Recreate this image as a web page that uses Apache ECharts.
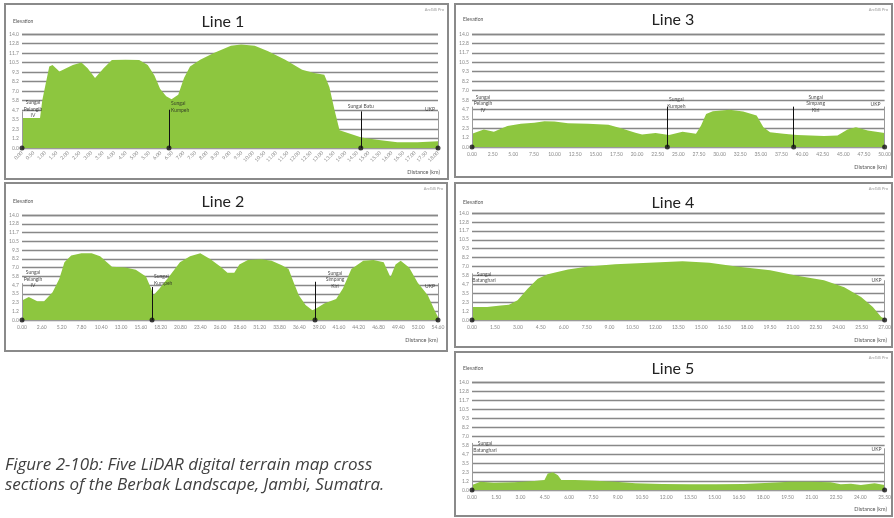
<!DOCTYPE html>
<html><head><meta charset="utf-8">
<script src="https://cdn.jsdelivr.net/npm/echarts@6/dist/echarts.min.js"></script>
<style>html,body{margin:0;padding:0;background:#fff}#c{width:894px;height:518px}</style>
</head><body><div id="c"></div>
<script>
// ---------- data (distance km / elevation m) ----------
const LINE1_DIST = [0,0.78,0.88,1.18,1.32,1.62,1.91,2.20,2.57,2.84,3.16,3.53,3.89,4.48,5.07,5.44,5.73,5.98,6.24,6.47,6.76,7.01,7.27,7.71,8.30,9.04,9.48,10.07,10.65,11.39,12.12,12.64,13.08,13.30,13.52,13.74,14.33,14.69,15.36,16.24,17.12,18.0];
const LINE1_ELEV = [3.68,3.68,5.9,10.0,10.2,9.4,9.8,10.2,10.5,9.8,8.6,9.8,10.8,10.85,10.8,10.2,8.9,7.25,6.35,6.0,6.55,8.6,10.0,10.85,11.67,12.57,12.7,12.57,11.87,10.85,9.6,9.2,9.0,7.5,4.7,2.17,1.64,1.3,1.0,0.7,0.7,0.82];
const LINE2_DIST = [0,0.89,2.01,2.90,4.01,4.90,5.57,6.46,7.80,9.14,10.25,11.14,11.81,13.59,14.93,16.27,16.94,17.25,18.05,19.39,20.73,22.06,23.40,24.74,26.07,26.97,27.86,28.53,29.64,31.42,32.76,34.10,34.99,35.66,36.33,37.22,38.11,38.55,39.67,41.23,42.12,43.23,44.79,46.13,47.47,48.36,49.03,49.70,50.81,51.92,53.26,54.15,54.6];
const LINE2_ELEV = [2.6,3.06,2.5,2.5,3.7,5.5,7.7,8.6,8.9,8.9,8.5,7.7,7.1,7.0,6.7,5.8,4.2,3.3,4.2,5.9,7.7,8.5,8.9,8.1,7.1,6.3,6.3,7.4,8.0,8.1,7.9,7.3,6.8,5.0,3.3,2.0,1.3,1.5,2.2,2.8,4.2,6.8,7.9,8.0,7.7,5.7,7.4,7.9,7.0,5.0,3.3,1.3,0.4];
const LINE3_DIST = [0,1.43,2.65,4.29,5.92,7.55,8.78,10.0,11.63,14.08,16.53,18.16,19.80,20.61,22.24,23.88,25.51,27.14,27.76,28.37,29.18,31.22,32.86,34.49,35.31,36.12,37.76,39.39,41.02,42.65,44.29,45.51,46.53,47.96,50];
const LINE3_ELEV = [1.64,2.17,1.9,2.6,2.87,3.0,3.2,3.15,2.95,2.87,2.75,2.3,1.76,1.56,1.72,1.5,1.9,1.64,2.66,4.1,4.42,4.6,4.4,3.9,2.46,1.84,1.64,1.5,1.43,1.35,1.43,2.17,2.46,2.05,1.72];
const LINE4_DIST = [0,0.99,1.87,2.42,2.98,3.64,4.30,4.96,6.28,7.60,9.37,11.57,13.78,15.54,17.30,19.51,21.27,23.03,24.36,25.46,26.23,26.78,27];
const LINE4_ELEV = [1.7,1.7,1.9,2.0,2.6,4.1,5.4,6.0,6.6,7.0,7.3,7.5,7.7,7.5,7.0,6.5,5.8,5.2,4.3,3.0,1.7,0.4,0.2];
const LINE5_DIST = [0,0.52,1.35,2.60,3.85,4.48,4.68,5.0,5.31,5.52,6.35,7.60,8.85,10.10,11.76,13.43,15.09,16.76,18.42,19.67,20.92,22.17,22.79,23.42,24.04,24.88,25.5];
const LINE5_ELEV = [0.65,1.08,0.95,1.0,1.16,1.3,2.15,2.3,1.9,1.3,1.3,1.2,1.08,0.86,0.78,0.73,0.73,0.78,0.95,1.08,1.08,1.0,0.73,0.82,0.65,0.86,0.65];

// river / boundary markers
const LINE1_MARK_X = [0, 6.36, 14.66, 18];
const LINE1_MARK_TOP = [4.5, 4.7, 4.5, 4.5];
const LINE1_MARK_NAME = ['Sungai\nPelangih\nIV', 'Sungai\nKumpeh', 'Sungai Batu', 'UKP'];
const LINE2_MARK_X = [0, 17.07, 38.46, 54.6];
const LINE2_MARK_TOP = [4.9, 4.4, 5.1, 4.9];
const LINE2_MARK_NAME = ['Sungai\nPelangih\nIV', 'Sungai\nKumpeh', 'Sungai\nSimpang\nKiri', 'UKP'];
const LINE3_MARK_X = [0, 23.67, 38.98, 50];
const LINE3_MARK_TOP = [5.0, 5.0, 5.0, 5.0];
const LINE3_MARK_NAME = ['Sungai\nPelangih\nIV', 'Sungai\nKumpeh', 'Sungai\nSimpang\nKiri', 'UKP'];
const LINE4_MARK_X = [0, 27];
const LINE4_MARK_TOP = [6.1, 5.2];
const LINE4_MARK_NAME = ['Sungai\nBatanghari', 'UKP'];
const LINE5_MARK_X = [0, 25.5];
const LINE5_MARK_TOP = [6.1, 5.4];
const LINE5_MARK_NAME = ['Sungai\nBatanghari', 'UKP'];

const Y_MAX = 14, Y_STEP = 7 / 6;
const TITLES = ['Line 1', 'Line 2', 'Line 3', 'Line 4', 'Line 5'];
const X_MAX = [18, 54.6, 50, 27, 25.5];
const X_STEP = [0.5, 2.6, 2.5, 1.5, 1.5];
const CAPTION = ['Figure 2-10b: Five LiDAR digital terrain map cross', 'sections of the Berbak Landscape, Jambi, Sumatra.'];

// ---------- layout ----------
const PANELS = [
  {dist: LINE1_DIST, elev: LINE1_ELEV, mx: LINE1_MARK_X, mt: LINE1_MARK_TOP, mn: LINE1_MARK_NAME,
   grid: {left: 22, top: 34, width: 416, height: 114}, box: [5, 4, 443, 175], title: [223, 22], rot: 45,
   dk: [440, 172], lab: [[11, -2, 'center'], [2, -3, 'left'], [0, -5, 'center'], [-3, -2, 'right']]},
  {dist: LINE2_DIST, elev: LINE2_ELEV, mx: LINE2_MARK_X, mt: LINE2_MARK_TOP, mn: LINE2_MARK_NAME,
   grid: {left: 22, top: 215, width: 416, height: 105}, box: [5, 183, 442, 168], title: [223, 202], rot: 0,
   dk: [438, 340], lab: [[11, -4, 'center'], [2, -7, 'left'], [20, -2, 'center'], [-3, 3, 'right']]},
  {dist: LINE3_DIST, elev: LINE3_ELEV, mx: LINE3_MARK_X, mt: LINE3_MARK_TOP, mn: LINE3_MARK_NAME,
   grid: {left: 472, top: 34, width: 416, height: 113}, box: [455, 4, 437, 173], title: [673, 20], rot: 0,
   dk: [887, 167], lab: [[11, -3, 'center'], [9, -4, 'center'], [22, -3, 'center'], [-4, -2, 'right']]},
  {dist: LINE4_DIST, elev: LINE4_ELEV, mx: LINE4_MARK_X, mt: LINE4_MARK_TOP, mn: LINE4_MARK_NAME,
   grid: {left: 472, top: 213, width: 416, height: 107}, box: [455, 183, 437, 164], title: [673, 203], rot: 0,
   dk: [887, 340], lab: [[12, 4, 'center'], [-3, 0, 'right']]},
  {dist: LINE5_DIST, elev: LINE5_ELEV, mx: LINE5_MARK_X, mt: LINE5_MARK_TOP, mn: LINE5_MARK_NAME,
   grid: {left: 472, top: 382, width: 416, height: 108}, box: [455, 352, 437, 164], title: [673, 369], rot: 0,
   dk: [887, 509], lab: [[13, 4, 'center'], [-3, 1, 'right']]}
];

const GREEN = '#8dc63f';
const grids = [], xAxes = [], yAxes = [], series = [], graphics = [];

PANELS.forEach((p, i) => {
  grids.push(p.grid);
  xAxes.push({
    type: 'value', gridIndex: i, min: 0, max: X_MAX[i], interval: X_STEP[i],
    axisLine: {show: true, lineStyle: {color: '#9a9a9a', width: 1}},
    axisTick: {show: false}, splitLine: {show: false},
    axisLabel: {fontSize: 5, color: '#8a8a8a', margin: p.rot ? 4 : 5, rotate: p.rot,
      formatter: v => v.toFixed(2)}
  });
  yAxes.push({
    type: 'value', gridIndex: i, min: 0, max: Y_MAX, interval: Y_STEP,
    axisLine: {show: false}, axisTick: {show: false},
    splitLine: {show: true, lineStyle: {color: '#888888', width: 1.3}},
    axisLabel: {fontSize: 5, color: '#8a8a8a', margin: 3, formatter: v => v.toFixed(1)}
  });
  series.push({
    type: 'line', xAxisIndex: i, yAxisIndex: i, symbol: 'none',
    data: p.dist.map((d, k) => [d, p.elev[k]]),
    lineStyle: {width: 0, color: GREEN}, areaStyle: {color: GREEN, opacity: 1},
    silent: true, z: 2
  });
  const last = p.mx.length - 1;
  series.push({
    type: 'scatter', xAxisIndex: i, yAxisIndex: i, symbol: 'circle', symbolSize: 5,
    itemStyle: {color: '#111'}, z: 5, silent: true,
    data: p.mx.map(x => [x, 0]),
    markLine: {
      silent: true, symbol: 'none', animation: false, label: {show: false},
      data: p.mx.map((x, k) => [
        {coord: [x, 0], lineStyle: {type: 'solid', width: 1,
          color: (k === 0 || k === last) ? '#9a9a9a' : '#111'}},
        {coord: [x, p.mt[k]]}
      ])
    }
  });
  series.push({
    type: 'scatter', xAxisIndex: i, yAxisIndex: i, symbolSize: 0, z: 6, silent: true,
    data: p.mx.map((x, k) => ({
      value: [x, p.mt[k]], name: p.mn[k],
      label: {show: true, position: [p.lab[k][0], p.lab[k][1]], align: p.lab[k][2],
        verticalAlign: 'middle', formatter: '{b}', fontSize: 5, lineHeight: 6.5, color: '#222'}
    }))
  });
  const b = p.box;
  graphics.push({type: 'rect', shape: {x: b[0], y: b[1], width: b[2], height: b[3]},
    style: {fill: 'none', stroke: '#8a8a8a', lineWidth: 2}, z: 0});
  graphics.push({type: 'text', x: p.title[0], y: p.title[1],
    style: {text: TITLES[i], font: '16px Lato', fill: '#222', align: 'center', verticalAlign: 'middle'}});
  graphics.push({type: 'text', x: b[0] + 8, y: p.title[1] - 1,
    style: {text: 'Elevation', font: '5px Lato', fill: '#555', align: 'left', verticalAlign: 'middle'}});
  graphics.push({type: 'text', x: p.dk[0], y: p.dk[1],
    style: {text: 'Distance (km)', font: '5.5px Lato', fill: '#555', align: 'right', verticalAlign: 'middle'}});
  graphics.push({type: 'text', x: b[0] + b[2] - 4, y: b[1] + 6,
    style: {text: 'ArcGIS Pro', font: '4px Lato', fill: '#999', align: 'right', verticalAlign: 'middle'}});
});

graphics.push({type: 'text', x: 5, y: 465,
  style: {text: CAPTION[0], font: 'italic 17px "Open Sans"', fill: '#404040', verticalAlign: 'middle'}});
graphics.push({type: 'text', x: 5, y: 485,
  style: {text: CAPTION[1], font: 'italic 17px "Open Sans"', fill: '#404040', verticalAlign: 'middle'}});

const chart = echarts.init(document.getElementById('c'), null, {renderer: 'canvas'});
chart.setOption({
  animation: false,
  textStyle: {fontFamily: 'Lato'},
  grid: grids, xAxis: xAxes, yAxis: yAxes, series: series, graphic: graphics
});
</script></body></html>
